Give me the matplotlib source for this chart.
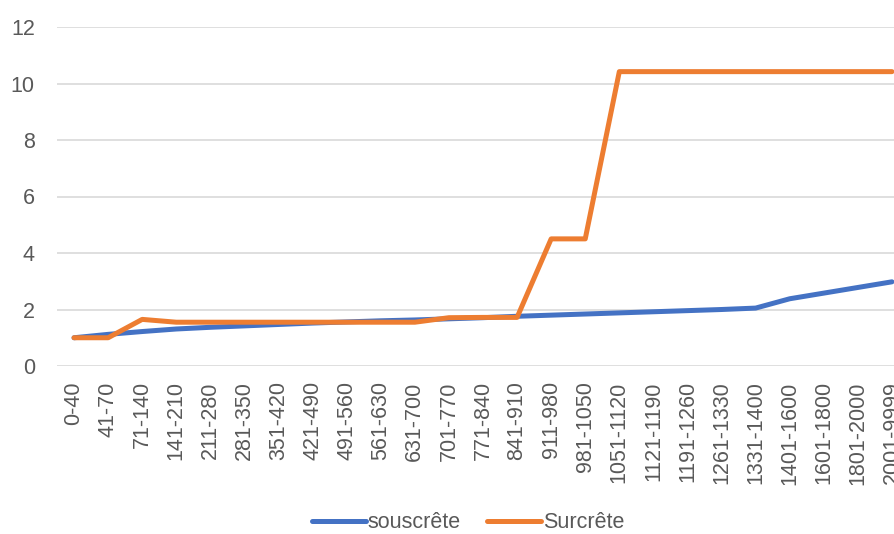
import matplotlib
matplotlib.use("Agg")
import matplotlib.pyplot as plt
from matplotlib.lines import Line2D

categories = ["0-40", "41-70", "71-140", "141-210", "211-280", "281-350", "351-420",
              "421-490", "491-560", "561-630", "631-700", "701-770", "771-840",
              "841-910", "911-980", "981-1050", "1051-1120", "1121-1190", "1191-1260",
              "1261-1330", "1331-1400", "1401-1600", "1601-1800", "1801-2000", "2001-9999"]
souscrete = [1.0, 1.12, 1.22, 1.31, 1.37, 1.42, 1.47, 1.52, 1.56, 1.60, 1.63, 1.67,
             1.71, 1.76, 1.80, 1.84, 1.88, 1.92, 1.96, 2.00, 2.05, 2.38, 2.58, 2.78, 2.98]
surcrete = [1.0, 1.0, 1.65, 1.55, 1.55, 1.55, 1.55, 1.55, 1.55, 1.55, 1.55, 1.71,
            1.72, 1.72, 4.5, 4.5, 10.42, 10.42, 10.42, 10.42, 10.42, 10.42, 10.42, 10.42, 10.42]
series_names = ["souscrête", "Surcrête"]
yticks = [0, 2, 4, 6, 8, 10, 12]

BLUE = "#4472C4"
ORANGE = "#ED7D31"
TEXT = "#595959"
GRID = "#D9D9D9"
FONT = "Liberation Sans"
FS = 15.5

W, H = 894, 534
fig = plt.figure(figsize=(W / 100, H / 100), dpi=100)
left, right = 57 / W, 909 / W
bottom, top = (H - 366) / H, (H - 27) / H
ax = fig.add_axes([left, bottom, right - left, top - bottom])

x = list(range(len(categories)))
ax.plot(x, souscrete, color=BLUE, lw=3.6, solid_capstyle="round", solid_joinstyle="round", zorder=3)
ax.plot(x, surcrete, color=ORANGE, lw=3.6, solid_capstyle="round", solid_joinstyle="round", zorder=4)

ax.set_xlim(-0.5, len(categories) - 0.5)
ax.set_ylim(0, 12)
ax.set_yticks(yticks)
ax.set_yticklabels([str(t) for t in yticks], fontfamily=FONT, fontsize=FS, color=TEXT)
ax.set_xticks(x)
ax.set_xticklabels(categories, rotation=90, fontfamily=FONT, fontsize=FS, color=TEXT,
                   ha="center", va="top")
ax.tick_params(axis="y", length=0, pad=16)
ax.tick_params(axis="x", length=0, pad=11)
ax.grid(axis="y", color=GRID, lw=1.2)
ax.set_axisbelow(True)
for s in ax.spines.values():
    s.set_visible(False)

handles = [Line2D([], [], color=BLUE, lw=3.6, solid_capstyle="round"),
           Line2D([], [], color=ORANGE, lw=3.6, solid_capstyle="round")]
leg = fig.legend(handles, series_names, loc="center", bbox_to_anchor=(468 / W, 1 - 523 / H),
                 ncol=2, frameon=False, handlelength=2.5, handletextpad=0.1,
                 columnspacing=1.2, prop={"family": FONT, "size": FS})
for t in leg.get_texts():
    t.set_color(TEXT)

fig.savefig("out.png", dpi=100)
